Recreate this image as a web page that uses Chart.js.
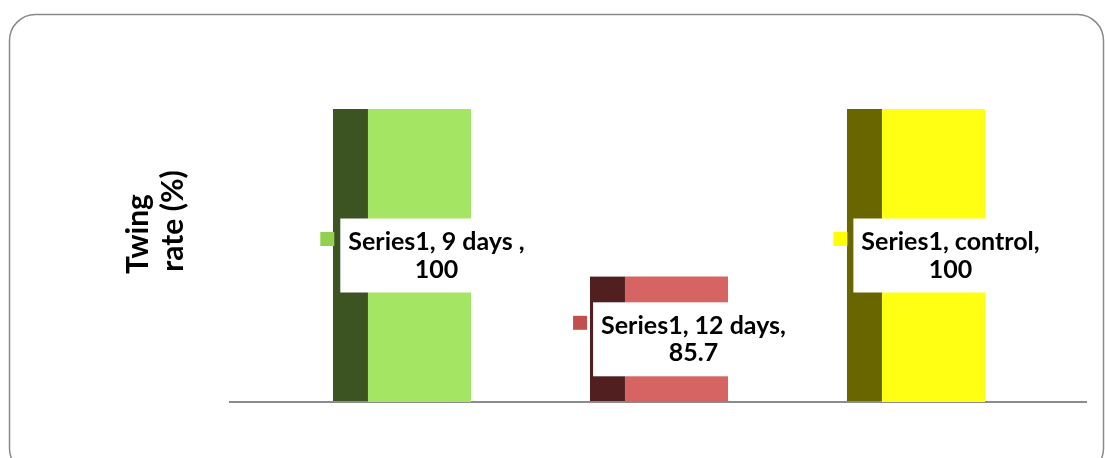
<!DOCTYPE html>
<html>
<head>
<meta charset="utf-8">
<script src="https://cdn.jsdelivr.net/npm/chart.js@4"></script>
<style>
  body { margin: 0; background: #fff; }
</style>
</head>
<body>
<canvas id="twingChart" width="1105" height="458"></canvas>
<script>
// data
const seriesName = 'Series1';
const categories = ['9 days ', '12 days', 'control'];
const twingRate = [100, 85.7, 100];
const axisTitle = ['Twing', 'rate (%)'];

// colours: front face, side face, label key
const frontColors = ['#a4e564', '#d56462', '#ffff14'];
const sideColors = ['#3c5322', '#511f20', '#696600'];
const keyColors = ['#92d050', '#c0504d', '#ffff00'];

const SIDE_W = 35;

// frame, 3d side faces, floor line, labels
const framePlugin = {
  id: 'frame',
  beforeDraw(chart) {
    const ctx = chart.ctx;
    ctx.save();
    ctx.strokeStyle = '#8a8a8a';
    ctx.lineWidth = 1.5;
    ctx.beginPath();
    ctx.roundRect(9.5, 14.5, 1094, 460, 26);
    ctx.stroke();
    ctx.restore();
  },
  beforeDatasetsDraw(chart) {
    const ctx = chart.ctx;
    const area = chart.chartArea;
    const meta = chart.getDatasetMeta(0);
    ctx.save();
    meta.data.forEach((bar, i) => {
      const left = bar.x - bar.width / 2;
      const base = Math.min(bar.base, area.bottom);
      ctx.fillStyle = sideColors[i];
      ctx.fillRect(left - SIDE_W, bar.y, SIDE_W, base - bar.y);
    });
    ctx.strokeStyle = '#8c8c8c';
    ctx.lineWidth = 2;
    ctx.beginPath();
    ctx.moveTo(area.left - 62, area.bottom);
    ctx.lineTo(area.right + 25, area.bottom);
    ctx.stroke();
    ctx.restore();
  },
  afterDatasetsDraw(chart) {
    const ctx = chart.ctx;
    const area = chart.chartArea;
    const meta = chart.getDatasetMeta(0);
    ctx.save();
    ctx.font = 'bold 25px Lato';
    ctx.textAlign = 'center';
    ctx.textBaseline = 'middle';
    meta.data.forEach((bar, i) => {
      const line1 = seriesName + ', ' + categories[i] + ',';
      const line2 = String(twingRate[i]);
      const w = Math.max(ctx.measureText(line1).width, ctx.measureText(line2).width);
      const base = Math.min(bar.base, area.bottom);
      const cx = bar.x + 17;
      const cy = (bar.y + base) / 2;
      const boxLeft = cx - w / 2 - 8;
      ctx.fillStyle = '#ffffff';
      ctx.fillRect(boxLeft, cy - 37, w + 16, 74);
      ctx.fillStyle = keyColors[i];
      ctx.fillRect(boxLeft - 20, cy - 23.5, 14, 14);
      ctx.fillStyle = '#000000';
      ctx.fillText(line1, cx, cy - 13.5);
      ctx.fillText(line2, cx, cy + 14);
    });

    // y axis title, rotated, two lines
    ctx.font = 'bold 30px Lato';
    ctx.textBaseline = 'alphabetic';
    [[axisTitle[0], 148, 234], [axisTitle[1], 183, 221]].forEach(([txt, x, y]) => {
      ctx.save();
      ctx.translate(x, y);
      ctx.rotate(-Math.PI / 2);
      ctx.fillText(txt, 0, 0);
      ctx.restore();
    });
    ctx.restore();
  }
};

new Chart(document.getElementById('twingChart'), {
  type: 'bar',
  data: {
    labels: categories,
    datasets: [{
      label: seriesName,
      data: twingRate,
      backgroundColor: frontColors,
      borderWidth: 0,
      categoryPercentage: 1,
      barPercentage: 0.401
    }]
  },
  options: {
    responsive: false,
    animation: false,
    layout: {
      padding: { top: 109, bottom: 56, left: 291, right: 43 }
    },
    plugins: {
      legend: { display: false },
      tooltip: { enabled: false }
    },
    scales: {
      x: { display: false },
      y: {
        display: false,
        min: 75,
        max: 100
      }
    }
  },
  plugins: [framePlugin]
});
</script>
</body>
</html>
